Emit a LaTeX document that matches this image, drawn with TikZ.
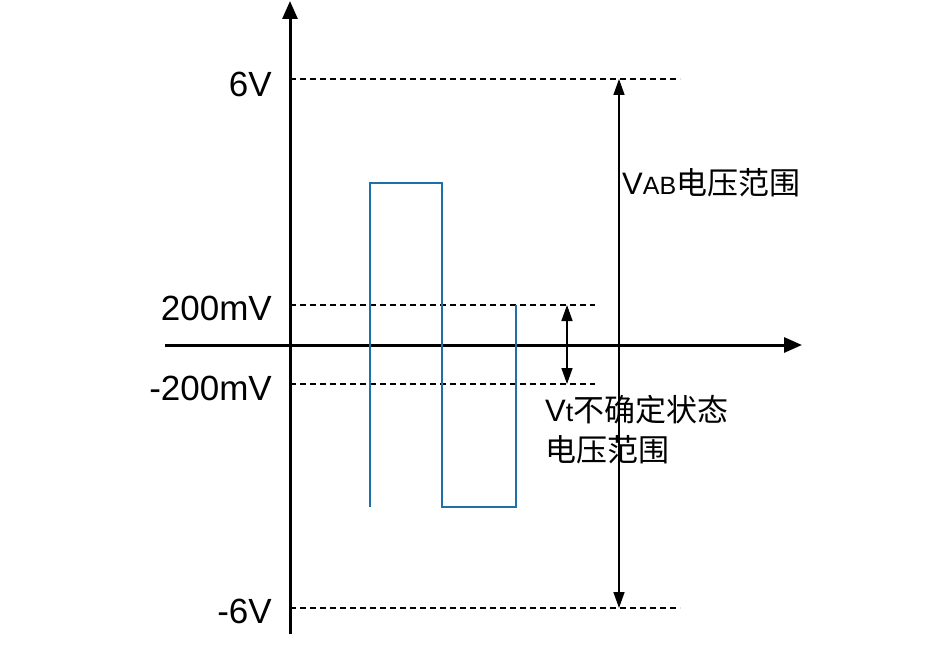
\documentclass[tikz,border=0pt]{standalone}
\usepackage{fontspec}
\setmainfont{Liberation Sans}
\newfontfamily\cjk{Noto Sans CJK SC}
\usetikzlibrary{arrows.meta}
\begin{document}
\begin{tikzpicture}[x=1pt,y=-1pt,
  axis/.style={line width=3pt,-{Triangle[length=18pt,width=15pt]}},
  guide/.style={line width=1.2pt,dash pattern=on 6pt off 4pt},
  span/.style={line width=1.5pt,{Triangle[length=16pt,width=11pt]}-{Triangle[length=16pt,width=11pt]}},
  wave/.style={line width=2.8pt,color={rgb,255:red,31;green,112;blue,170}},
  lab/.style={font=\fontsize{35}{37}\selectfont,inner sep=0pt},
  txt/.style={font=\fontsize{31}{34}\selectfont,inner sep=0pt,anchor=west}]
\useasboundingbox (0,0) rectangle (950,650);
\coordinate (yb) at (290,634); \coordinate (yt) at (290,1);
\coordinate (xl) at (165,345); \coordinate (xr) at (802,345);
\draw[axis] (yb) -- (yt);
\draw[axis] (xl) -- (xr);
\coordinate (p6a) at (290,79); \coordinate (p6b) at (680,79);
\coordinate (m6a) at (290,608); \coordinate (m6b) at (680,608);
\coordinate (p2a) at (290,305); \coordinate (p2b) at (595,305);
\coordinate (m2a) at (290,384); \coordinate (m2b) at (595,384);
\draw[guide] (p6a) -- (p6b);
\draw[guide] (m6a) -- (m6b);
\draw[guide] (p2a) -- (p2b);
\draw[guide] (m2a) -- (m2b);
\coordinate (w0) at (370,507);
\draw[wave] (w0) -- (370,183) -- (442,183) -- (442,507) -- (516,507) -- (516,305);
\coordinate (ba) at (619,79); \coordinate (bb) at (619,608);
\draw[span] (ba) -- (bb);
\coordinate (sa) at (567,305); \coordinate (sb) at (567,384);
\draw[span] (sa) -- (sb);
\node[lab,anchor=east] (l6) at (272,84) {6V};
\node[lab,anchor=east] (l2) at (272,308) {200mV};
\node[lab,anchor=east] (lm2) at (272,388) {-200mV};
\node[lab,anchor=east] (lm6) at (272,611) {-6V};
\node[txt] (vab) at (622,183) {V{\fontsize{25}{27}\selectfont AB}\cjk 电压范围};
\node[txt] (vt1) at (545,410) {V{\fontsize{27}{27}\selectfont t}\cjk 不确定状态};
\node[txt] (vt2) at (545,450) {\cjk 电压范围};
\end{tikzpicture}
\end{document}
